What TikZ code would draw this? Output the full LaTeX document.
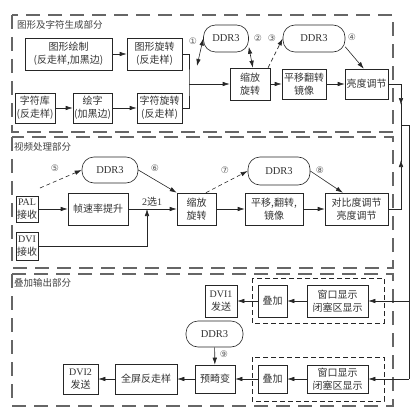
\documentclass[tikz,border=0pt]{standalone}
\usepackage{fontspec}
\setmainfont{Liberation Serif}
\newfontfamily\cjk{Noto Sans CJK SC}
\newfontfamily\symf{DejaVu Sans}
\usetikzlibrary{arrows.meta}
\begin{document}
\begin{tikzpicture}[x=1pt,y=-1pt,
  wh/.style 2 args={minimum width=#1pt, minimum height=#2pt},
  box/.style={draw=black!85, line width=0.6pt, inner sep=0pt, align=center,
    font=\cjk\fontsize{10}{13}\selectfont, text=black!80, fill=white},
  ddr/.style={draw=black!85, line width=0.6pt, rounded corners=12pt, inner sep=0pt,
    font=\fontsize{10.5}{12}\selectfont, text=black!80, fill=white},
  sec/.style={draw=black!60, line width=1.1pt, dash pattern=on 14pt off 8pt},
  innerbox/.style={draw=black!85, line width=0.6pt, dash pattern=on 5pt off 3pt},
  ln/.style={draw=black!85, line width=0.6pt},
  arr/.style={ln, -{Latex[length=7pt,width=4.5pt]}},
  darr/.style={ln, {Latex[length=7pt,width=4.5pt]}-{Latex[length=7pt,width=4.5pt]}},
  dsh/.style={arr, dash pattern=on 4pt off 3pt},
  num/.style={font=\symf\fontsize{9}{10}\selectfont, text=black!65, inner sep=0pt},
  ttl/.style={anchor=west, font=\cjk\fontsize{9.5}{11}\selectfont, text=black!75, inner sep=0pt}
]
\useasboundingbox (0,0) rectangle (418,420);
% sections
\draw[sec] (12,15) rectangle (393,132);
\draw[sec] (12,137) rectangle (393,268);
\draw[sec] (12,274) rectangle (393,406);
\draw[innerbox] (252,278) rectangle (384,323);
\draw[innerbox] (252,357) rectangle (384,401);
\node[ttl] (t1) at (17,25) {图形及字符生成部分};
\node[ttl] (t2) at (14,147) {视频处理部分};
\node[ttl] (t3) at (14,283) {叠加输出部分};

% section 1
\node[box, wh={87}{32}] (g1) at (68.5,54) {图形绘制\\(反走样,加黑边)};
\node[box, wh={55}{32}] (g2) at (154.5,54) {图形旋转\\(反走样)};
\node[box, wh={40}{30}] (c1) at (35,108) {字符库\\(反走样)};
\node[box, wh={39}{30}] (c2) at (92.5,108) {绘字\\(加黑边)};
\node[box, wh={45}{30}] (c3) at (159.5,108) {字符旋转\\(反走样)};
\node[box, wh={40}{32}] (z1) at (250,84) {缩放\\旋转};
\node[box, wh={44}{30}] (p1) at (304,84) {平移翻转\\镜像};
\node[box, wh={43}{30}] (b1) at (366.5,84) {亮度调节};
\node[ddr, wh={45}{27}] (d1) at (226,38.5) {DDR3};
\node[ddr, wh={62}{27}] (d2) at (314,38.5) {DDR3};

\draw[arr] (g1) -- (g2);
\draw[arr] (c1) -- (c2);
\draw[arr] (c2) -- (c3);
\coordinate (j1) at (189,84);
\draw[ln] (g2.east) -| (j1) |- (c3.east);
\draw[arr] (j1) -- (z1.west);
\draw[arr] (z1) -- (p1);
\draw[arr] (p1) -- (b1);
\coordinate (a1) at (197,66);
\draw[darr] (a1) -- (d1.west);
\draw[darr] (d1.-20) -- (z1.80);
\draw[dsh] (z1.42) -- (d2.west);
\draw[arr] (d2.-15) -- (b1.100);
\node[num] (n1) at (193,41) {①};
\node[num] (n2) at (258,38) {②};
\node[num] (n3) at (272,38) {③};
\node[num] (n4) at (352,37) {④};

% section 2
\node[ddr, wh={56}{26}] (d3) at (110,170) {DDR3};
\node[box, wh={22}{26}] (pal) at (27,209) {{\rmfamily PAL}\\接收};
\node[box, wh={60}{32}] (fr) at (98,209) {帧速率提升};
\node[box, wh={22}{28}] (dvi) at (27,246) {{\rmfamily DVI}\\接收};
\node[box, wh={39}{32}] (z2) at (196.5,209) {缩放\\旋转};
\node[box, wh={58}{32}] (p2) at (274,209) {平移,翻转,\\镜像};
\node[box, wh={63}{32}] (b2) at (356.5,209) {对比度调节\\亮度调节};
\node[ddr, wh={62}{28}] (d4) at (279,171) {DDR3};

\draw[arr] (pal) -- (fr);
\draw[arr] (fr) -- (z2);
\node[font=\fontsize{10}{11}\selectfont, text=black!80, inner sep=0pt] (sel) at (152,202) {2{\cjk 选}1};
\coordinate (m2) at (147,209);
\draw[arr] (dvi.east) -| (m2);
\coordinate (a5) at (40,188);
\draw[dsh] (a5) -- (d3.west);
\draw[arr] (d3.east) -- (z2.north west);
\draw[dsh] (z2.60) -- (d4.west);
\draw[arr] (d4.east) -- (b2.130);
\draw[arr] (z2) -- (p2);
\draw[arr] (p2) -- (b2);
\node[num] (n5) at (55,168) {⑤};
\node[num] (n6) at (155,168) {⑥};
\node[num] (n7) at (225,170) {⑦};
\node[num] (n8) at (320,170) {⑧};

% section 3
\node[box, wh={32}{32}] (dvo1) at (221,301) {{\rmfamily DVI1}\\发送};
\node[box, wh={29}{32}] (ov1) at (272.5,301) {叠加};
\node[box, wh={61}{32}] (w1) at (337.5,301) {窗口显示\\闭塞区显示};
\node[ddr, wh={57}{26}] (d5) at (214.5,334) {DDR3};
\node[box, wh={35}{30}] (dvo2) at (80.5,379) {{\rmfamily DVI2}\\发送};
\node[box, wh={62}{30}] (fs) at (146,379) {全屏反走样};
\node[box, wh={40}{28}] (pd) at (215,379) {预畸变};
\node[box, wh={29}{28}] (ov2) at (272.5,379) {叠加};
\node[box, wh={61}{28}] (w2) at (337.5,379) {窗口显示\\闭塞区显示};

\draw[arr] (w1) -- (ov1);
\draw[arr] (ov1) -- (dvo1);
\draw[arr] (w2) -- (ov2);
\draw[arr] (ov2) -- (pd);
\draw[arr] (pd) -- (fs);
\draw[arr] (fs) -- (dvo2);
\draw[arr] (d5) -- (pd);
\node[num] (n9) at (224,354) {⑨};

% bus
\coordinate (bt) at (401,125);
\coordinate (bdn) at (401,105);
\coordinate (bdn2) at (401,103);
\coordinate (bup) at (401,160);
\coordinate (bup2) at (401,162);
\coordinate (br) at (409,125);
\coordinate (bw1) at (409,301);
\coordinate (bw2) at (409,379);
\draw[arr] (b1.east) -| (bdn);
\draw[ln] (bdn2) -- (bt);
\draw[arr] (b2.east) -| (bup);
\draw[ln] (bup2) -- (bt);
\draw[ln] (bt) -- (br) -- (bw2);
\draw[arr] (bw1) -- (w1.east);
\draw[arr] (bw2) -- (w2.east);
\end{tikzpicture}
\end{document}
